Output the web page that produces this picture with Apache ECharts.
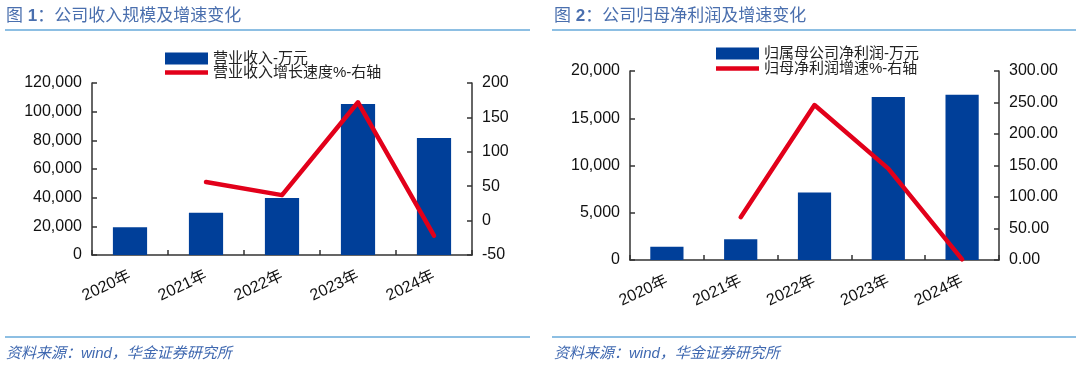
<!DOCTYPE html>
<html>
<head>
<meta charset="utf-8">
<script src="https://cdn.jsdelivr.net/npm/echarts@6/dist/echarts.min.js"></script>
<style>
html,body{margin:0;padding:0;background:#fff;}
#c{width:1080px;height:371px;}
</style>
</head>
<body>
<div id="c"></div>
<script>
// ---- data ----
const years = ['2020年', '2021年', '2022年', '2023年', '2024年'];
const revenue = [19300, 29500, 39700, 105400, 81700];          // 营业收入-万元
const revenueGrowth = [null, 56, 37, 172, -22];                 // 营业收入增长速度%
const profit = [1400, 2200, 7150, 17250, 17500];                // 归属母公司净利润-万元
const profitGrowth = [null, 68, 246, 145, 1];                   // 归母净利润增速%
const revAxis = {min: 0, max: 120000, interval: 20000};
const revGrowthAxis = {min: -50, max: 200, interval: 50};
const profAxis = {min: 0, max: 20000, interval: 5000};
const profGrowthAxis = {min: 0, max: 300, interval: 50};
const titles = ['公司收入规模及增速变化', '公司归母净利润及增速变化'];
const source = '资料来源：wind，华金证券研究所';
const names = ['营业收入-万元', '营业收入增长速度%-右轴', '归属母公司净利润-万元', '归母净利润增速%-右轴'];

const FF = "'Liberation Sans', 'Noto Sans CJK SC', sans-serif";
const BLUE = '#003f99';
const RED = '#e2001a';
const AX = '#333333';
const TITLE = '#4a6fae';
const RULE = '#8dbfe3';

const chart = echarts.init(document.getElementById('c'), null, {renderer: 'canvas'});

function yAxisCfg(gi, cfg, pos, fmt) {
  return {
    type: 'value', gridIndex: gi, position: pos,
    min: cfg.min, max: cfg.max, interval: cfg.interval,
    splitLine: {show: false},
    axisLine: {show: true, lineStyle: {color: AX, width: 1.5}},
    axisTick: {show: true, inside: true, length: 5, lineStyle: {color: AX, width: 1.5}},
    axisLabel: {color: '#111', fontSize: 16, fontFamily: FF, margin: 10, formatter: fmt}
  };
}
function xAxisCfg(gi) {
  return {
    type: 'category', gridIndex: gi, data: years,
    axisLine: {show: true, lineStyle: {color: AX, width: 1.5}},
    axisTick: {show: true, inside: true, length: 5, lineStyle: {color: AX, width: 1.5}},
    axisLabel: {color: '#111', fontSize: 16, fontFamily: FF, rotate: 25, margin: 20}
  };
}
function legendCfg(name, left, top, isLine) {
  return {
    data: [name], left: left, top: top, orient: 'vertical',
    itemWidth: 43, itemHeight: isLine ? 4.5 : 12, itemGap: 0, padding: 0,
    icon: 'rect',
    textStyle: {fontSize: 15, color: '#222', fontFamily: FF, padding: [0, 0, 0, 0]},
    selectedMode: false
  };
}
function titleText(x, num, text) {
  return {
    type: 'text', x: x, y: 16,
    style: {
      text: '图 {b|' + num + '}：' + text,
      fill: TITLE, fontSize: 17, fontFamily: FF, verticalAlign: 'middle', align: 'left',
      rich: {b: {fontWeight: 'bold', fontSize: 17, fontFamily: FF, fill: TITLE}}
    }
  };
}
function rule(x1, x2, y) {
  return {type: 'rect', shape: {x: x1, y: y, width: x2 - x1, height: 2}, style: {fill: RULE}};
}
function srcText(x) {
  return {
    type: 'text', x: x, y: 354,
    style: {text: source, fill: '#3f68b0', fontSize: 15, fontStyle: 'italic', fontFamily: FF,
            verticalAlign: 'middle', align: 'left'}
  };
}

const option = {
  backgroundColor: '#ffffff',
  animation: false,
  grid: [
    {left: 92, top: 83, width: 380, height: 172},
    {left: 630, top: 71, width: 369, height: 189}
  ],
  xAxis: [xAxisCfg(0), xAxisCfg(1)],
  yAxis: [
    yAxisCfg(0, revAxis, 'left'),
    yAxisCfg(0, revGrowthAxis, 'right'),
    yAxisCfg(1, profAxis, 'left'),
    yAxisCfg(1, profGrowthAxis, 'right', v => v.toFixed(2))
  ],
  legend: [
    legendCfg(names[0], 165, 51, false),
    legendCfg(names[1], 165, 65, true),
    legendCfg(names[2], 716, 46, false),
    legendCfg(names[3], 716, 61, true)
  ],
  series: [
    {name: names[0], type: 'bar', xAxisIndex: 0, yAxisIndex: 0, data: revenue,
     barWidth: '45%', itemStyle: {color: BLUE}},
    {name: names[1], type: 'line', xAxisIndex: 0, yAxisIndex: 1, data: revenueGrowth,
     symbol: 'none', lineStyle: {color: RED, width: 4.5, join: 'round', cap: 'round'}, itemStyle: {color: RED}},
    {name: names[2], type: 'bar', xAxisIndex: 1, yAxisIndex: 2, data: profit,
     barWidth: '45%', itemStyle: {color: BLUE}},
    {name: names[3], type: 'line', xAxisIndex: 1, yAxisIndex: 3, data: profitGrowth,
     symbol: 'none', lineStyle: {color: RED, width: 4.5, join: 'round', cap: 'round'}, itemStyle: {color: RED}}
  ],
  graphic: [
    titleText(6, 1, titles[0]),
    titleText(554, 2, titles[1]),
    rule(5, 530, 29),
    rule(552, 1076, 29),
    rule(5, 530, 336),
    rule(552, 1076, 336),
    srcText(6),
    srcText(554)
  ]
};
chart.setOption(option);
</script>
</body>
</html>
